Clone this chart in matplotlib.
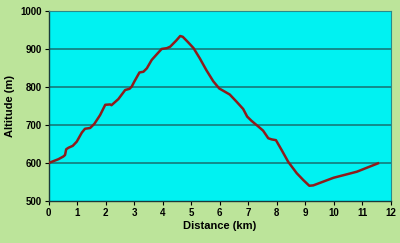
import matplotlib
matplotlib.use("Agg")
import matplotlib.pyplot as plt

# elevation profile
distance_km = [0, 0.34, 0.51, 0.57, 0.61, 0.69, 0.84, 0.98, 1.16, 1.27, 1.45, 1.6,
               1.8, 1.98, 2.15, 2.2, 2.44, 2.68, 2.83, 2.91, 3.0, 3.18, 3.32, 3.44,
               3.61, 3.79, 3.96, 4.14, 4.26, 4.47, 4.61, 4.7, 4.87, 5.08, 5.3, 5.53,
               5.77, 5.98, 6.12, 6.35, 6.59, 6.82, 6.96, 7.11, 7.35, 7.52, 7.7, 7.82,
               7.97, 8.17, 8.4, 8.7, 8.93, 9.14, 9.28, 9.99, 10.81, 11.55]
altitude_m = [600, 610, 617, 621, 636, 640, 645, 656, 680, 690, 692, 703,
              726, 753, 754, 752, 768, 792, 795, 801, 814, 838, 840, 849,
              871, 886, 900, 902, 906, 922, 934, 932, 919, 902, 875, 844,
              815, 796, 790, 780, 761, 742, 722, 711, 696, 685, 665, 662,
              660, 634, 603, 573, 555, 540, 541, 561, 577, 599]

x_ticks = list(range(0, 13))
y_ticks = [500, 600, 700, 800, 900, 1000]

plt.rcParams['font.family'] = ['Liberation Sans', 'DejaVu Sans']

fig = plt.figure(figsize=(4, 2.43), dpi=100, facecolor='#bce49a')
ax = fig.add_axes([0.122, 0.173, 0.855, 0.782])
ax.set_facecolor('#00f2f2')

# horizontal grid lines
for y in y_ticks[1:-1]:
    ax.axhline(y, color='#157a7a', lw=1.2, zorder=1)

ax.plot(distance_km, altitude_m, color='#8e1c1c', lw=1.8, zorder=3)

ax.set_xlim(0, 12)
ax.set_ylim(500, 1000)
ax.set_xticks(x_ticks)
ax.set_yticks(y_ticks)
ax.tick_params(labelsize=7, length=3, width=0.8, colors='black', pad=2)
for lab in ax.get_xticklabels() + ax.get_yticklabels():
    lab.set_fontweight('bold')

for side in ['left', 'bottom']:
    ax.spines[side].set_color('#1a3a3a')
    ax.spines[side].set_linewidth(1.0)
for side in ['top', 'right']:
    ax.spines[side].set_color('#2a8a8a')
    ax.spines[side].set_linewidth(0.8)

ax.set_xlabel('Distance (km)', fontsize=8, fontweight='bold', labelpad=2)
ax.set_ylabel('Altitude (m)', fontsize=8, fontweight='bold', labelpad=4)

fig.savefig('out.png', dpi=100, facecolor=fig.get_facecolor())
